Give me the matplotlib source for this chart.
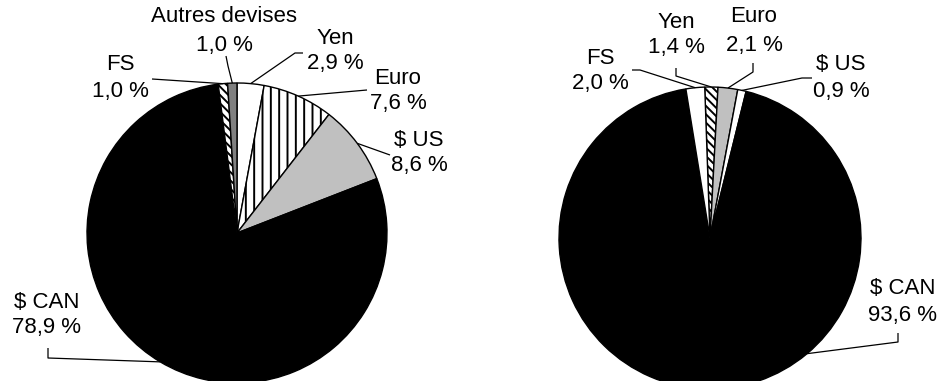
import numpy as np
import matplotlib

matplotlib.use("Agg")
import matplotlib.pyplot as plt

plt.rcParams["font.family"] = ["Liberation Sans", "DejaVu Sans"]
plt.rcParams["hatch.linewidth"] = 1.4

# ---- data ------------------------------------------------------------------
left_labels = ["Yen", "Euro", "$ US", "$ CAN", "FS", "Autres devises"]
left_values = [2.9, 7.6, 8.6, 78.9, 1.0, 1.0]

right_labels = ["Yen", "Euro", "$ US", "$ CAN", "FS"]
right_values = [1.4, 2.1, 0.9, 93.6, 2.0]

# ---- styles / layout (pixel coords, y from top) ----------------------------
LGRAY = "#c0c0c0"
DGRAY = "#808080"
left_style = {"Yen": ("white", None), "Euro": ("white", "||"), "$ US": (LGRAY, None),
              "$ CAN": ("black", None), "FS": ("white", "\\\\\\\\"), "Autres devises": (DGRAY, None)}
right_style = {"Yen": ("white", "\\\\\\\\"), "Euro": (LGRAY, None), "$ US": ("white", None),
               "$ CAN": ("black", None), "FS": ("white", None)}

H = 381
FS_TXT = 16
# label x, name line y, value line y ; leader waypoints (pixel), last point = slice edge
left_pie = dict(center=(237, 233), r=150, start=90)
left_lab = {
    "Autres devises": ((224, 17, 45), [(226, 56), (228, 66)]),
    "Yen": ((335, 38, 64), [(303, 53), (295, 53)]),
    "Euro": ((398, 78, 104), [(367, 90)]),
    "$ US": ((419, 140, 166), [(390, 155)]),
    "FS": ((120, 65, 92), [(152, 79)]),
    "$ CAN": ((47, 303, 328), [(48, 348), (48, 358)]),
}
right_pie = dict(center=(710, 238), r=151, start=92)
right_lab = {
    "Yen": ((676, 22, 48), [(676, 68), (676, 76)]),
    "Euro": ((754, 17, 45), [(753, 63), (753, 72)]),
    "$ US": ((841, 64, 91), [(812, 78), (802, 78)]),
    "FS": ((600, 58, 83), [(632, 70), (640, 70)]),
    "$ CAN": ((903, 289, 315), [(898, 333), (898, 342)]),
}
can_edge_angle = {"left": None, "right": 140}  # degrees clockwise from top

fig = plt.figure(figsize=(9.44, 3.81), dpi=100)
ax = fig.add_axes([0, 0, 1, 1])


def draw(labels, values, pie, style, labs, side):
    cx, cy = pie["center"]
    r = pie["r"]
    wedges, _ = ax.pie(values, center=(cx, H - cy), radius=r, startangle=pie["start"],
                       counterclock=False, frame=True,
                       colors=[style[l][0] for l in labels],
                       wedgeprops=dict(edgecolor="black", linewidth=1.0))
    for w, l in zip(wedges, labels):
        if style[l][1]:
            w.set_hatch(style[l][1])
    total = sum(values)
    cum = 0.0
    for l, v in zip(labels, values):
        # clockwise angle from top (12 o'clock) of slice middle
        mid = (90 - pie["start"]) + (cum + v / 2) / total * 360
        cum += v
        if l == "$ CAN" and can_edge_angle[side] is not None:
            mid = can_edge_angle[side]
        ex = cx + r * np.sin(np.radians(mid))
        ey = cy - r * np.cos(np.radians(mid))
        (tx, y1, y2), pts = labs[l]
        ax.text(tx, H - y1, l, ha="center", va="center", fontsize=FS_TXT)
        ax.text(tx, H - y2, f"{v:.1f} %".replace(".", ","), ha="center", va="center",
                fontsize=FS_TXT)
        xs = [p[0] for p in pts] + [ex]
        ys = [H - p[1] for p in pts] + [H - ey]
        ax.plot(xs, ys, color="black", lw=0.9, solid_capstyle="butt", zorder=5)


draw(left_labels, left_values, left_pie, left_style, left_lab, "left")
draw(right_labels, right_values, right_pie, right_style, right_lab, "right")

ax.set_xlim(0, 944)
ax.set_ylim(0, H)
ax.axis("off")

fig.savefig("out.png", dpi=100, facecolor="white")
